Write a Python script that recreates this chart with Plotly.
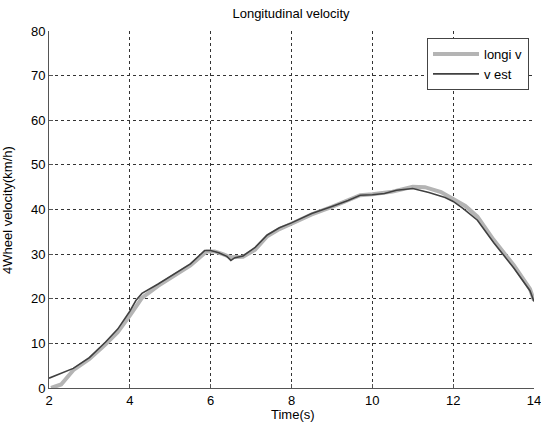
import plotly.graph_objects as go

# Data
t_est = [2.0, 2.3, 2.6, 3.0, 3.4, 3.7, 4.0, 4.15, 4.3, 4.7, 5.1, 5.5, 5.85, 6.0, 6.2, 6.4, 6.5, 6.6,
         6.8, 7.1, 7.4, 7.7, 8.0, 8.5, 9.0, 9.4, 9.7, 10.0, 10.3, 10.6, 11.0, 11.4, 11.8, 12.0, 12.25,
         12.6, 13.0, 13.5, 13.9, 14.0]
v_est = [2.2, 3.3, 4.4, 6.8, 10.3, 13.2, 17.2, 19.6, 21.2, 23.3, 25.6, 27.8, 30.8, 30.8, 30.3, 29.5,
         28.6, 29.2, 29.6, 31.5, 34.3, 35.9, 37.0, 39.1, 40.7, 42.0, 43.2, 43.3, 43.6, 44.3, 44.7, 43.8,
         42.7, 41.8, 40.2, 37.6, 32.6, 26.9, 21.8, 19.4]

t_longi = [2.05, 2.3, 2.6, 3.0, 3.4, 3.7, 4.0, 4.3, 4.7, 5.1, 5.5, 5.9, 6.1, 6.3, 6.5, 6.8, 7.1, 7.4,
           7.7, 8.0, 8.5, 9.0, 9.4, 9.7, 10.0, 10.5, 11.0, 11.3, 11.7, 12.0, 12.3, 12.6, 13.0, 13.5,
           13.9, 14.0]
v_longi = [0.0, 0.8, 4.0, 6.5, 9.8, 12.5, 16.2, 20.2, 22.9, 25.2, 27.5, 30.6, 30.6, 30.0, 29.3, 29.4,
           31.0, 34.0, 35.6, 36.8, 38.9, 40.6, 42.1, 43.2, 43.4, 44.0, 45.1, 45.0, 43.9, 42.4, 40.8,
           38.4, 33.2, 27.5, 22.2, 19.6]

x_ticks = [2, 4, 6, 8, 10, 12, 14]
y_ticks = [0, 10, 20, 30, 40, 50, 60, 70, 80]

font = "Liberation Sans, Arial, sans-serif"
W, H = 541, 431
ML, MR, MT, MB = 49, 7, 31, 43
pw, ph = W - ML - MR, H - MT - MB

fig = go.Figure()
fig.add_trace(go.Scatter(x=t_longi, y=v_longi, mode="lines", name="longi v",
                         line=dict(color="#b4b4b4", width=4)))
fig.add_trace(go.Scatter(x=t_est, y=v_est, mode="lines", name="v est",
                         line=dict(color="#404040", width=1.6)))

axis_common = dict(showline=True, mirror=False, linecolor="#555555", linewidth=1,
                   showgrid=True, gridcolor="#333333", griddash="dot", gridwidth=1,
                   ticks="inside", ticklen=4, tickcolor="#555555", zeroline=False,
                   automargin=False, ticklabeloverflow="allow",
                   tickfont=dict(family=font, size=13, color="black"))

fig.update_xaxes(range=[2, 14], tickvals=x_ticks, **axis_common)
fig.update_yaxes(range=[0, 80], tickvals=y_ticks, **axis_common)

fig.add_annotation(text="Time(s)", xref="paper", yref="paper",
                   x=(293 - ML) / pw, y=-(414 - (H - MB)) / ph,
                   xanchor="center", yanchor="middle", showarrow=False,
                   font=dict(family=font, size=13, color="black"))
fig.add_annotation(text="4Wheel velocity(km/h)", xref="paper", yref="paper",
                   x=-(ML - 7) / pw, y=1 - (210 - MT) / ph, xanchor="center", yanchor="middle",
                   textangle=-90, showarrow=False,
                   font=dict(family=font, size=13, color="black"))

fig.update_layout(
    width=W, height=H,
    margin=dict(l=ML, r=MR, t=MT, b=MB, autoexpand=False),
    paper_bgcolor="white", plot_bgcolor="white",
    hovermode=False,
    title=dict(text="Longitudinal velocity", x=291 / W, xanchor="center", xref="container",
               y=1 - 13 / H, yanchor="middle", yref="container",
               font=dict(family=font, size=13, color="black")),
    showlegend=True,
    legend=dict(x=(529 - ML) / pw, y=1 - (38 - MT) / ph, xanchor="right", yanchor="top",
                bgcolor="white", bordercolor="#444444", borderwidth=1,
                font=dict(family=font, size=13, color="black"),
                tracegroupgap=0, itemwidth=46),
)

fig.write_html("out.html", config={"displayModeBar": False},
               post_script="document.body.style.margin='0';document.body.style.overflow='hidden';")
